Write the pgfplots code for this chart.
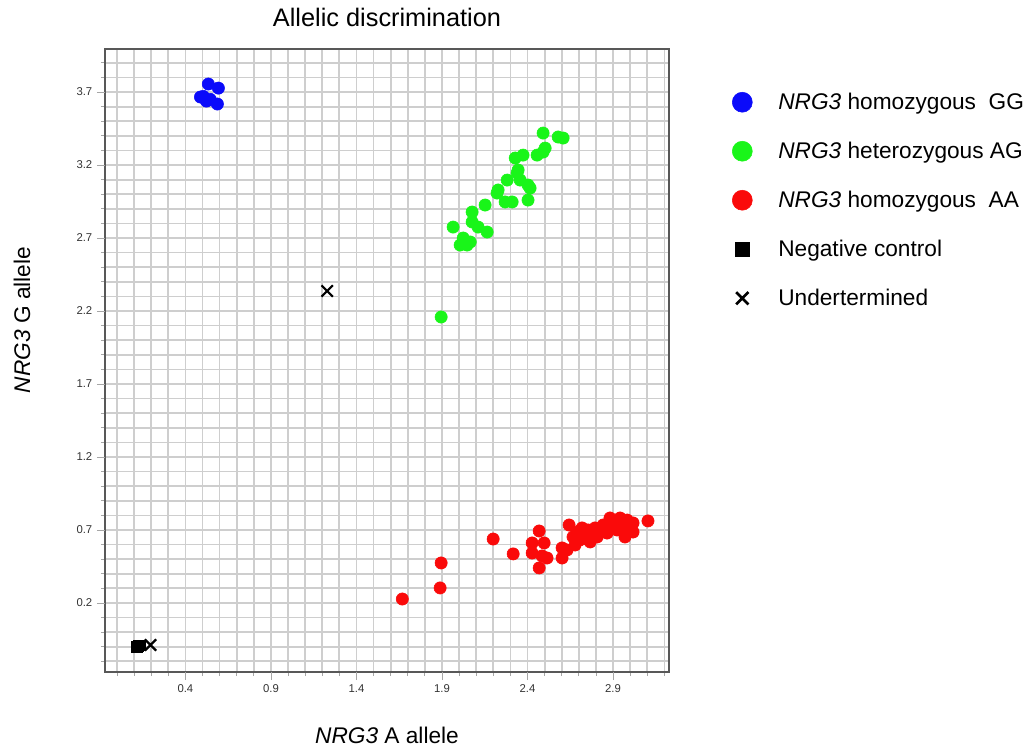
\documentclass[border=0pt]{standalone}
\usepackage{fontspec}
\setmainfont{Liberation Sans}
\usepackage{pgfplots}
\pgfplotsset{compat=1.18}
\definecolor{gridgray}{RGB}{206,206,206}
\definecolor{framegray}{RGB}{88,88,88}
\definecolor{ptblue}{RGB}{10,10,250}
\definecolor{ptgreen}{RGB}{25,245,25}
\definecolor{ptred}{RGB}{250,10,10}

\begin{document}
\begin{tikzpicture}
\begin{axis}[
  at={(0,0)}, anchor=south west,
  scale only axis, width=423pt, height=467.25pt,
  xmin=-0.07, xmax=3.227, ymin=-0.273, ymax=3.995,
  % every grid line is a (short) tick; the labelled ticks come as extra ticks
  xtick={0.0,0.1,0.2,0.3,0.4,0.5,0.6,0.7,0.8,0.9,1.0,1.1,1.2,1.3,1.4,1.5,1.6,1.7,1.8,1.9,
    2.0,2.1,2.2,2.3,2.4,2.5,2.6,2.7,2.8,2.9,3.0,3.1,3.2},
  ytick={-0.2,-0.1,0.0,0.1,0.2,0.3,0.4,0.5,0.6,0.7,0.8,0.9,1.0,1.1,1.2,1.3,1.4,1.5,1.6,1.7,
    1.8,1.9,2.0,2.1,2.2,2.3,2.4,2.5,2.6,2.7,2.8,2.9,3.0,3.1,3.2,3.3,3.4,3.5,3.6,3.7,3.8,3.9},
  xticklabels={}, yticklabels={},
  extra x ticks={0.4,0.9,1.4,1.9,2.4,2.9},
  extra x tick labels={0.4,0.9,1.4,1.9,2.4,2.9},
  extra y ticks={0.2,0.7,1.2,1.7,2.2,2.7,3.2,3.7},
  extra y tick labels={0.2,0.7,1.2,1.7,2.2,2.7,3.2,3.7},
  extra tick style={grid=none, major tick length=6pt},
  tick label style={font=\fontsize{8.5}{10}\selectfont, text=black!80},
  grid=major,
  major grid style={gridgray, line width=1.3pt},
  axis line style={framegray, line width=1.5pt},
  tick align=outside, xtick pos=left, ytick pos=left,
  major tick length=3pt,
  tick style={black!35, line width=0.6pt},
  title={Allelic discrimination},
  title style={at={(0.5,1.037)}, anchor=center, font=\fontsize{19}{22}\selectfont},
  xlabel={\textit{NRG3} A allele},
  xlabel style={at={(0.5,-0.1011)}, anchor=center, font=\fontsize{17}{20}\selectfont},
  ylabel={\textit{NRG3} G allele},
  ylabel style={at={(-0.1472,0.565)}, anchor=center, font=\fontsize{17}{20}\selectfont},
  legend style={at={(1.1011,0.9543)}, anchor=north west, draw=none, fill=none,
    inner sep=0pt, column sep=15pt,
    nodes={inner xsep=0pt, inner ysep=0pt, minimum height=36.75pt, anchor=west},
    font=\fontsize{17}{20}\selectfont},
  legend cell align=left,
  legend image code/.code={\path[draw=none, fill=none] (0pt,-10pt) rectangle (24pt,10pt);
    \draw[#1] plot coordinates {(12pt,0pt)};},
]
% NRG3 homozygous GG
\addplot[only marks, mark=*, mark size=4.6pt, mark options={draw=ptblue, fill=ptblue}, forget plot]
coordinates {(0.534,3.755) (0.593,3.727) (0.488,3.666) (0.523,3.638) (0.545,3.650) (0.587,3.618) (0.505,3.670)};
% NRG3 heterozygous AG
\addplot[only marks, mark=*, mark size=4.6pt, mark options={draw=ptgreen, fill=ptgreen}, forget plot]
coordinates {
(2.491,3.419) (2.579,3.392) (2.608,3.385) (2.503,3.316) (2.491,3.289)
(2.456,3.268) (2.374,3.268) (2.328,3.248) (2.345,3.166) (2.339,3.145)
(2.281,3.097) (2.357,3.097) (2.403,3.063) (2.415,3.042) (2.228,3.029)
(2.222,3.008) (2.269,2.947) (2.310,2.947) (2.403,2.960) (2.152,2.926)
(2.076,2.878) (2.076,2.810) (2.111,2.775) (2.164,2.741) (1.965,2.775)
(2.024,2.700) (2.065,2.673) (2.006,2.652) (2.047,2.652) (1.895,2.159)};
% NRG3 homozygous AA
\addplot[only marks, mark=*, mark size=4.6pt, mark options={draw=ptred, fill=ptred}, forget plot]
coordinates {
(1.668,0.227) (1.889,0.303) (1.895,0.474) (2.199,0.638) (2.316,0.536)
(2.468,0.693) (2.427,0.611) (2.497,0.611) (2.427,0.542) (2.468,0.440)
(2.514,0.508) (2.485,0.522) (2.602,0.577) (2.602,0.508) (2.631,0.563)
(2.643,0.734) (2.690,0.686) (2.719,0.714) (2.736,0.645) (2.766,0.618)
(2.783,0.679) (2.824,0.686) (2.842,0.734) (2.882,0.782) (2.900,0.748)
(2.941,0.782) (2.982,0.768) (3.017,0.748) (2.988,0.700) (3.017,0.686)
(2.970,0.652) (2.923,0.700) (2.865,0.679) (2.807,0.652) (2.707,0.632)
(2.666,0.652) (3.104,0.762) (2.678,0.597) (2.754,0.700) (2.853,0.714)
(2.911,0.720) (2.952,0.734) (2.795,0.714)};
% Negative control
\addplot[only marks, mark=square*, mark size=4pt, mark options={draw=black, fill=black}, forget plot]
coordinates {(0.115,-0.100) (0.125,-0.092) (0.132,-0.090)};
% Undetermined
\addplot[only marks, mark=x, mark size=6pt, mark options={draw=black, line width=1.6pt}, forget plot]
coordinates {(1.229,2.337) (0.196,-0.088)};

\addlegendimage{only marks, mark=*, mark size=7.5pt, mark options={draw=ptblue, fill=ptblue}}
\addlegendentry{\textit{NRG3} homozygous\ \ GG}
\addlegendimage{only marks, mark=*, mark size=7.5pt, mark options={draw=ptgreen, fill=ptgreen}}
\addlegendentry{\textit{NRG3} heterozygous\ AG}
\addlegendimage{only marks, mark=*, mark size=7.5pt, mark options={draw=ptred, fill=ptred}}
\addlegendentry{\textit{NRG3} homozygous\ \ AA}
\addlegendimage{only marks, mark=square*, mark size=5.5pt, mark options={draw=black, fill=black}}
\addlegendentry{Negative control}
\addlegendimage{only marks, mark=x, mark size=6.5pt, mark options={draw=black, line width=2pt}}
\addlegendentry{Undertermined}
\end{axis}
\path (-78.75pt,-55.5pt) rectangle (693.75pt,504pt);
\end{tikzpicture}
\end{document}
